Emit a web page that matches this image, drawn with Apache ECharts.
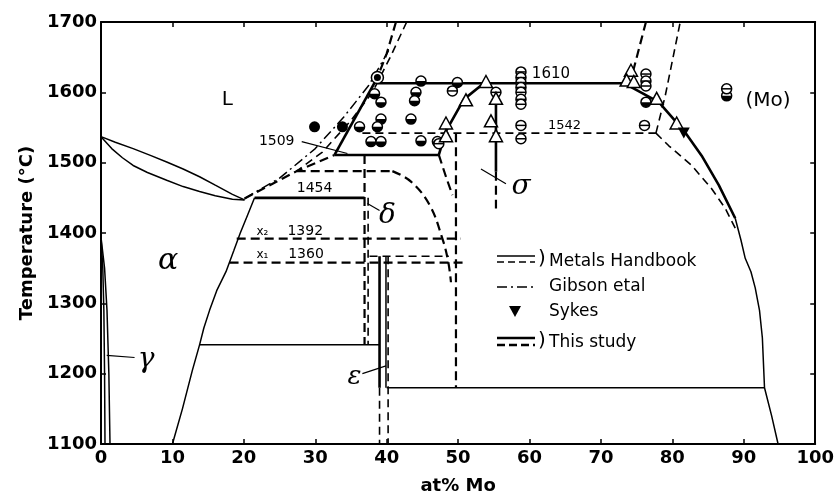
<!DOCTYPE html>
<html><head><meta charset="utf-8">
<script src="https://cdn.jsdelivr.net/npm/echarts@6/dist/echarts.min.js"></script>
<style>html,body{margin:0;padding:0;background:#fff}#c{width:837px;height:500px}</style>
</head><body><div id="c"></div>
<script>
// ---------- axes ----------
const xRange = [0, 100, 10];
const yRange = [1100, 1700, 100];

// ---------- solid lines (Metals Handbook, thin) ----------
const liquidusFe = [[0,1537],[2,1529],[4.5,1520],[7,1510],[9.2,1501],[11.5,1491],[13.8,1480],[16,1468],[18.4,1455],[20.1,1447]];
const solidusFe = [[0,1537],[1.5,1520],[3,1507],[4.5,1496],[6.5,1486],[9.2,1475],[11.5,1466],[13.8,1459],[16,1453],[18.4,1448],[20.1,1447]];
const alphaBoundary = [[21.5,1450],[20.5,1425],[19.5,1400],[18.6,1375],[17.5,1345],[16.2,1318],[15.2,1290],[14.4,1265],[13.8,1241],[12.8,1205],[11.4,1150],[10,1100]];
const gammaInner = [[0,1394],[0.25,1350],[0.4,1290],[0.5,1200],[0.56,1100]];
const gammaOuter = [[0,1394],[0.5,1350],[0.84,1290],[1.1,1200],[1.26,1100]];
const iso1241 = [[13.8,1241],[39.0,1241]];
const iso1180 = [[40.0,1180],[92.9,1180]];
const moSolvusLow = [[88.8,1421],[89.6,1390],[90.2,1364],[91.0,1345],[91.6,1322],[92.2,1290],[92.6,1251],[92.9,1180],[93.9,1140],[94.8,1100]];
const epsSolidA = [[39.0,1367],[39.0,1180]];
const epsSolidB = [[39.9,1367],[39.9,1180]];

// ---------- solid lines (This study, thick) ----------
const iso1454 = [[21.5,1450],[36.9,1450]];
const iso1509 = [[32.7,1511],[47.3,1511]];
const liqDelta = [[32.7,1511],[38.7,1621]];
const iso1610 = [[38.7,1613],[73.2,1613]];
const sigmaLeft = [[47.3,1511],[48.3,1545],[50.8,1590],[53.6,1613]];
const sigmaMark = [[55.3,1595],[55.3,1487]];
const moSolvusHigh = [[73.2,1613],[78.1,1586],[81.8,1543],[84.1,1510],[86.5,1468],[88.8,1421]];

// ---------- dashed lines ----------
const iso1542 = [[36.6,1542],[77.7,1542]];
const sigmaRightUp = [[77.7,1542],[79,1595],[81.1,1700]];
const sigmaRightDown = [[77.7,1542],[79.5,1524],[82.7,1496],[85.5,1463],[87.4,1435],[88.8,1407]];
const liqTopA = [[41.3,1700],[40,1655],[38.7,1621]];
const liqTopB = [[42.8,1700],[40.5,1650],[38,1600],[35,1560],[31,1515],[27.4,1488]];
const liqLow = [[20.1,1449],[27.4,1488],[32.7,1511]];
const iso1487 = [[27.4,1488],[40.8,1488]];
const deltaArc = [[40.8,1488],[43.4,1473],[46,1440],[47.8,1392],[48.6,1360],[49.0,1330]];
const sigmaDelta = [[47.3,1511],[48.3,1480],[49.2,1454]];
const sigmaMarkLow = [[55.3,1487],[55.3,1435]];
const sigmaMH = [[49.7,1542],[49.7,1180]];
const iso1392 = [[19,1392],[50.4,1392]];
const iso1360 = [[18,1358],[51,1358]];
const iso1367 = [[37.6,1367],[48.7,1367]];
const deltaVertA = [[36.9,1511],[36.9,1241]];
const deltaVertB = [[37.4,1450],[37.4,1241]];
const epsLeftLow = [[39.0,1180],[39.0,1100]];
const epsRight = [[40.2,1367],[40.2,1100]];
const liqTopC = [[74.5,1630],[76.3,1700]];

// ---------- dash-dot (Gibson et al) ----------
const gibsonLiq = [[20.1,1449],[25,1478],[30,1520],[34,1565],[37.5,1610],[40.3,1660]];

// ---------- pointer lines ----------
const ptr1509 = [[28.1,1530],[34.5,1513]];
const ptrDelta = [[37.3,1442],[39.0,1432]];
const ptrSigma = [[53.2,1491],[56.7,1470]];
const ptrGamma = [[0.8,1226],[4.7,1223]];
const ptrEps = [[36.6,1200],[39.9,1211]];

// ---------- experimental points ----------
const ptsHalf = [[38.3,1598],[39.2,1586],[39.2,1562],[38.7,1551],[36.2,1551],[37.8,1530],[39.2,1530],[44.8,1616],[44.1,1600],[43.9,1588],[43.4,1562],[44.8,1531],[49.9,1614],[47.1,1530],[76.3,1586],[87.6,1595]];
const ptsFilled = [[29.9,1551],[33.8,1551]];
const ptsDot = [[38.7,1621]];
const ptsTheta = [[58.8,1629],[58.8,1621],[58.8,1614],[58.8,1607],[58.8,1600],[58.8,1590],[58.8,1583],[58.8,1553],[58.8,1534],[49.2,1602],[55.3,1600],[47.3,1527],[76.3,1626],[76.3,1616],[76.3,1609],[76.1,1553],[87.6,1605]];
const ptsTri = [[53.9,1614],[51.1,1588],[48.3,1555],[48.3,1537],[55.3,1590],[54.6,1558],[55.3,1537],[74.2,1630],[73.6,1616],[74.6,1614],[77.8,1590],[80.6,1555]];
const ptsSykes = [[81.6,1543]];

// ---------- annotations ----------
const labelTexts = ['L','1509','1454','δ','x₂','1392','x₁','1360','α','γ','ε','σ','1610','1542','(Mo)'];
const labelPos = [[17.7,1590],[24.6,1530],[29.9,1463],[40.1,1425],[22.6,1402],[28.6,1402],[22.6,1369],[28.7,1369],[9.4,1360],[6.3,1220],[35.5,1195],[58.8,1466],[63.0,1626],[64.9,1552],[93.4,1588]];
const labelFonts = ['20px DejaVu Sans','14px DejaVu Sans','14px DejaVu Sans','italic 28px DejaVu Serif','12px DejaVu Sans','14px DejaVu Sans','12px DejaVu Sans','14px DejaVu Sans','italic 30px DejaVu Serif','italic 28px DejaVu Serif','italic 26px DejaVu Serif','italic 28px DejaVu Serif','15px DejaVu Sans','13px DejaVu Sans','20px DejaVu Sans'];

// ---------- build ----------
const S_THIN = {color:'#000', width:1.5, type:'solid'};
const S_THICK = {color:'#000', width:2.6, type:'solid'};
const D_THIN = {color:'#000', width:1.6, type:[8,5]};
const D_THICK = {color:'#000', width:2.2, type:[9,5]};
const DD = {color:'#000', width:1.5, type:[10,4,2,4]};
const PTR = {color:'#000', width:1.2, type:'solid'};

function line(data, style, smooth){
  return {type:'line', data:data, showSymbol:false, symbol:'none', smooth: smooth||false,
    lineStyle:style, silent:true, animation:false, z:3, clip:true};
}
const series = [
  line(liquidusFe,S_THIN), line(solidusFe,S_THIN), line(alphaBoundary,S_THIN),
  line(gammaInner,S_THIN), line(gammaOuter,S_THIN),
  line(iso1241,S_THIN), line(iso1180,S_THIN), line(moSolvusLow,S_THIN),
  line(epsSolidA,S_THICK), line(epsSolidB,S_THIN),
  line(iso1454,S_THICK), line(iso1509,S_THICK), line(liqDelta,S_THICK), line(iso1610,S_THICK),
  line(sigmaLeft,S_THICK), line(sigmaMark,S_THICK), line(moSolvusHigh,S_THICK),
  line(iso1542,D_THIN), line(sigmaRightUp,D_THIN), line(sigmaRightDown,D_THIN),
  line(liqTopA,D_THICK), line(liqTopB,D_THIN), line(liqLow,D_THICK),
  line(iso1487,D_THICK), line(deltaArc,D_THICK,0.4), line(sigmaDelta,D_THICK),
  line(sigmaMarkLow,D_THICK), line(sigmaMH,D_THICK), line(iso1392,D_THICK), line(iso1360,D_THICK),
  line(iso1367,D_THIN), line(deltaVertA,D_THICK), line(deltaVertB,D_THIN),
  line(epsLeftLow,D_THIN), line(epsRight,D_THIN), line(liqTopC,D_THICK),
  line(gibsonLiq,DD),
  line(ptr1509,PTR), line(ptrDelta,PTR), line(ptrSigma,PTR), line(ptrGamma,PTR), line(ptrEps,PTR)
];

function marker(kind, cx, cy){
  const R = 5;
  const ring = {type:'circle', shape:{cx:cx,cy:cy,r:R}, style:{fill:'#fff',stroke:'#000',lineWidth:1.5}};
  if(kind==='half') return {type:'group', children:[ring,
    {type:'sector', shape:{cx:cx,cy:cy,r:R,r0:0,startAngle:0,endAngle:Math.PI,clockwise:true}, style:{fill:'#000'}}]};
  if(kind==='theta') return {type:'group', children:[ring,
    {type:'line', shape:{x1:cx-R,y1:cy,x2:cx+R,y2:cy}, style:{stroke:'#000',lineWidth:1.5}}]};
  if(kind==='filled') return {type:'circle', shape:{cx:cx,cy:cy,r:5.5}, style:{fill:'#000'}};
  if(kind==='dot') return {type:'group', children:[
    {type:'circle', shape:{cx:cx,cy:cy,r:6}, style:{fill:'#fff',stroke:'#000',lineWidth:1.5}},
    {type:'circle', shape:{cx:cx,cy:cy,r:3.5}, style:{fill:'#000'}}]};
  if(kind==='tri') return {type:'polygon', shape:{points:[[cx,cy-7],[cx-6.5,cy+5],[cx+6.5,cy+5]]}, style:{fill:'#fff',stroke:'#000',lineWidth:1.5}};
  if(kind==='sykes') return {type:'polygon', shape:{points:[[cx-6,cy-5],[cx+6,cy-5],[cx,cy+6]]}, style:{fill:'#000'}};
}
function markerSeries(data, kind){
  return {type:'custom', data:data, silent:true, animation:false, z:6, clip:false,
    renderItem:function(params, api){
      const p = api.coord([api.value(0), api.value(1)]);
      return marker(kind, p[0], p[1]);
    }};
}
series.push(markerSeries(ptsHalf,'half'), markerSeries(ptsFilled,'filled'), markerSeries(ptsDot,'dot'),
  markerSeries(ptsTheta,'theta'), markerSeries(ptsTri,'tri'), markerSeries(ptsSykes,'sykes'));

series.push({type:'custom', data:labelPos, silent:true, animation:false, z:7, clip:false,
  renderItem:function(params, api){
    const p = api.coord([api.value(0), api.value(1)]);
    const i = params.dataIndex;
    return {type:'text', x:p[0], y:p[1], style:{text:labelTexts[i], font:labelFonts[i], fill:'#000',
      textAlign:'center', textVerticalAlign:'middle', align:'center', verticalAlign:'middle'}};
  }});

// ---------- legend (graphic) ----------
const LF = '17px DejaVu Sans';
const legendGraphic = [
  {type:'line', shape:{x1:497,y1:256,x2:535,y2:256}, style:{stroke:'#000',lineWidth:1.5}},
  {type:'line', shape:{x1:497,y1:262,x2:535,y2:262}, style:{stroke:'#000',lineWidth:1.5,lineDash:[7,4]}},
  {type:'text', x:538, y:259, style:{text:')', font:'20px DejaVu Sans', fill:'#000', textVerticalAlign:'middle', verticalAlign:'middle'}},
  {type:'text', x:549, y:262, style:{text:'Metals Handbook', font:LF, fill:'#000', textVerticalAlign:'middle', verticalAlign:'middle'}},
  {type:'line', shape:{x1:497,y1:287,x2:535,y2:287}, style:{stroke:'#000',lineWidth:1.5,lineDash:[10,4,2,4]}},
  {type:'text', x:549, y:287, style:{text:'Gibson etal', font:LF, fill:'#000', textVerticalAlign:'middle', verticalAlign:'middle'}},
  {type:'polygon', shape:{points:[[509,306],[521,306],[515,317]]}, style:{fill:'#000'}},
  {type:'text', x:549, y:312, style:{text:'Sykes', font:LF, fill:'#000', textVerticalAlign:'middle', verticalAlign:'middle'}},
  {type:'line', shape:{x1:497,y1:338,x2:535,y2:338}, style:{stroke:'#000',lineWidth:2.6}},
  {type:'line', shape:{x1:497,y1:345,x2:535,y2:345}, style:{stroke:'#000',lineWidth:2.6,lineDash:[8,4]}},
  {type:'text', x:538, y:341, style:{text:')', font:'20px DejaVu Sans', fill:'#000', textVerticalAlign:'middle', verticalAlign:'middle'}},
  {type:'text', x:549, y:343, style:{text:'This study', font:LF, fill:'#000', textVerticalAlign:'middle', verticalAlign:'middle'}}
];

const axisLine = {show:true, onZero:false, lineStyle:{color:'#000', width:2}};
const axisTick = {show:true, inside:true, length:5, lineStyle:{color:'#000', width:1.5}};
const labelStyle = {color:'#000', fontSize:18, fontWeight:'bold', fontFamily:'DejaVu Sans', formatter:function(v){return String(v);}};

const option = {
  animation:false,
  backgroundColor:'#fff',
  grid:{left:101, right:20, top:22, bottom:53, containLabel:false},
  xAxis:[
    {type:'value', min:xRange[0], max:xRange[1], interval:xRange[2], position:'bottom',
     axisLine:axisLine, axisTick:axisTick, splitLine:{show:false},
     axisLabel:Object.assign({margin:5, showMinLabel:true, showMaxLabel:true}, labelStyle),
     name:'at% Mo', nameLocation:'middle', nameGap:33,
     nameTextStyle:{color:'#000', fontSize:18, fontWeight:'bold', fontFamily:'DejaVu Sans'}},
    {type:'value', min:xRange[0], max:xRange[1], interval:xRange[2], position:'top',
     axisLine:axisLine, axisTick:axisTick, splitLine:{show:false}, axisLabel:{show:false}}
  ],
  yAxis:[
    {type:'value', min:yRange[0], max:yRange[1], interval:yRange[2], position:'left',
     axisLine:axisLine, axisTick:axisTick, splitLine:{show:false},
     axisLabel:Object.assign({margin:4, showMinLabel:true, showMaxLabel:true}, labelStyle),
     name:'Temperature (°C)', nameLocation:'middle', nameGap:62, nameRotate:90,
     nameTextStyle:{color:'#000', fontSize:18, fontWeight:'bold', fontFamily:'DejaVu Sans'}},
    {type:'value', min:yRange[0], max:yRange[1], interval:yRange[2], position:'right',
     axisLine:axisLine, axisTick:axisTick, splitLine:{show:false}, axisLabel:{show:false}}
  ],
  graphic:legendGraphic,
  series:series
};
const chart = echarts.init(document.getElementById('c'), null, {renderer:'canvas'});
chart.setOption(option);
</script></body></html>
